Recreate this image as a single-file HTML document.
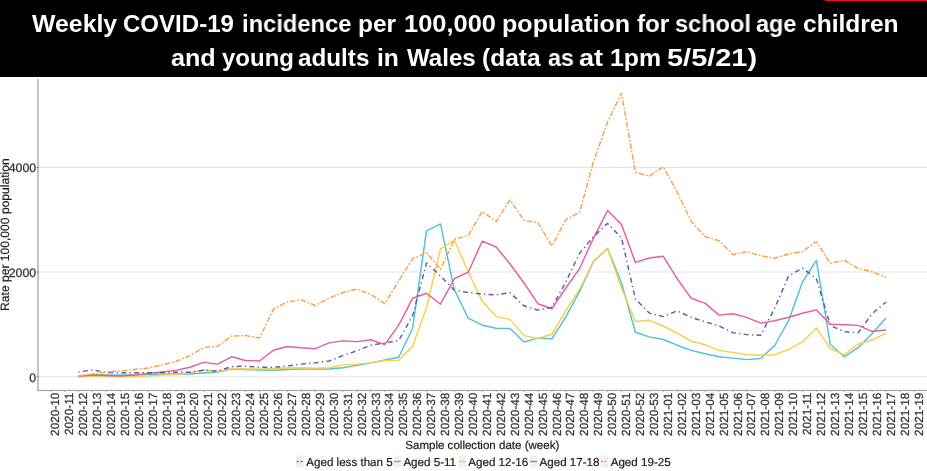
<!DOCTYPE html>
<html><head><meta charset="utf-8"><style>
html,body{margin:0;padding:0;background:#fff;}
body{width:927px;height:471px;overflow:hidden;position:relative;font-family:"Liberation Sans",sans-serif;}

#hdr{position:absolute;left:0;top:0;width:927px;height:76.5px;background:#000;}
#red{position:absolute;left:825px;top:0;width:102px;height:1px;background:#ee1111;}
.hw{position:absolute;color:#fff;font-weight:bold;font-size:24px;white-space:nowrap;line-height:1;transform-origin:0 0;will-change:transform;}
.w1{top:12.0px;}
.w2{top:46.0px;}
svg{position:absolute;left:0;top:0;will-change:transform;text-rendering:geometricPrecision;}

.tk{font-family:"Liberation Sans",sans-serif;font-size:11.8px;fill:#333;stroke:#333;stroke-width:0.25px;}
.ttl{font-family:"Liberation Sans",sans-serif;font-size:11.8px;fill:#1a1a1a;stroke:#1a1a1a;stroke-width:0.2px;}
.lg{font-family:"Liberation Sans",sans-serif;font-size:11.6px;fill:#1a1a1a;stroke:#1a1a1a;stroke-width:0.2px;}
.ln{fill:none;stroke-width:1.45;stroke-linejoin:round;}
</style></head><body>
<div id="hdr"></div><div id="red"></div>
<span class="hw w1" style="left:31.60px;transform:scaleX(1.0354)">Weekly</span>
<span class="hw w1" style="left:123.40px;transform:scaleX(1.0018)">COVID-19</span>
<span class="hw w1" style="left:241.61px;transform:scaleX(0.9890)">incidence</span>
<span class="hw w1" style="left:357.98px;transform:scaleX(1.0194)">per</span>
<span class="hw w1" style="left:404.14px;transform:scaleX(1.0600)">100,000</span>
<span class="hw w1" style="left:501.85px;transform:scaleX(1.0450)">population</span>
<span class="hw w1" style="left:636.50px;transform:scaleX(1.0094)">for</span>
<span class="hw w1" style="left:675.12px;transform:scaleX(0.9813)">school</span>
<span class="hw w1" style="left:756.22px;transform:scaleX(0.9775)">age</span>
<span class="hw w1" style="left:803.38px;transform:scaleX(1.0242)">children</span>
<span class="hw w2" style="left:170.85px;transform:scaleX(1.0475)">and</span>
<span class="hw w2" style="left:222.00px;transform:scaleX(0.9986)">young</span>
<span class="hw w2" style="left:298.49px;transform:scaleX(1.0101)">adults</span>
<span class="hw w2" style="left:376.97px;transform:scaleX(1.0263)">in</span>
<span class="hw w2" style="left:406.70px;transform:scaleX(1.0044)">Wales</span>
<span class="hw w2" style="left:482.08px;transform:scaleX(1.0211)">(data</span>
<span class="hw w2" style="left:547.63px;transform:scaleX(0.9720)">as</span>
<span class="hw w2" style="left:579.07px;transform:scaleX(1.1300)">at</span>
<span class="hw w2" style="left:609.97px;transform:scaleX(1.0340)">1pm</span>
<span class="hw w2" style="left:666.69px;transform:scaleX(1.2055)">5/5/21)</span>
<svg width="927" height="471" viewBox="0 0 927 471">
<line x1="39" y1="167.5" x2="927" y2="167.5" stroke="#e3e3e3" stroke-width="1.1"/>
<line x1="39" y1="272.0" x2="927" y2="272.0" stroke="#e3e3e3" stroke-width="1.1"/>
<line x1="39" y1="376.8" x2="927" y2="376.8" stroke="#e3e3e3" stroke-width="1.1"/>
<rect x="37" y="79" width="2" height="312" fill="#c4c4c4"/>
<rect x="37" y="389.9" width="890" height="1.15" fill="#a4a4a4"/>
<line x1="36.5" y1="167.5" x2="39" y2="167.5" stroke="#888" stroke-width="1"/>
<text x="36.1" y="172.3" text-anchor="end" class="tk" style="font-size:12.3px">4000</text>
<line x1="36.5" y1="272.0" x2="39" y2="272.0" stroke="#888" stroke-width="1"/>
<text x="36.1" y="276.8" text-anchor="end" class="tk" style="font-size:12.3px">2000</text>
<line x1="36.5" y1="376.8" x2="39" y2="376.8" stroke="#888" stroke-width="1"/>
<text x="36.1" y="381.6" text-anchor="end" class="tk" style="font-size:12.3px">0</text>
<line x1="50.6" y1="390.5" x2="50.6" y2="392" stroke="#b3b3b3" stroke-width="1"/>
<text transform="translate(59.2,392.6) rotate(-90)" text-anchor="end" class="tk">2020-10</text>
<line x1="64.5" y1="390.5" x2="64.5" y2="392" stroke="#b3b3b3" stroke-width="1"/>
<text transform="translate(73.1,392.6) rotate(-90)" text-anchor="end" class="tk">2020-11</text>
<line x1="78.4" y1="390.5" x2="78.4" y2="392" stroke="#b3b3b3" stroke-width="1"/>
<text transform="translate(87.0,392.6) rotate(-90)" text-anchor="end" class="tk">2020-12</text>
<line x1="92.4" y1="390.5" x2="92.4" y2="392" stroke="#b3b3b3" stroke-width="1"/>
<text transform="translate(101.0,392.6) rotate(-90)" text-anchor="end" class="tk">2020-13</text>
<line x1="106.3" y1="390.5" x2="106.3" y2="392" stroke="#b3b3b3" stroke-width="1"/>
<text transform="translate(114.9,392.6) rotate(-90)" text-anchor="end" class="tk">2020-14</text>
<line x1="120.2" y1="390.5" x2="120.2" y2="392" stroke="#b3b3b3" stroke-width="1"/>
<text transform="translate(128.8,392.6) rotate(-90)" text-anchor="end" class="tk">2020-15</text>
<line x1="134.1" y1="390.5" x2="134.1" y2="392" stroke="#b3b3b3" stroke-width="1"/>
<text transform="translate(142.7,392.6) rotate(-90)" text-anchor="end" class="tk">2020-16</text>
<line x1="148.1" y1="390.5" x2="148.1" y2="392" stroke="#b3b3b3" stroke-width="1"/>
<text transform="translate(156.7,392.6) rotate(-90)" text-anchor="end" class="tk">2020-17</text>
<line x1="162.0" y1="390.5" x2="162.0" y2="392" stroke="#b3b3b3" stroke-width="1"/>
<text transform="translate(170.6,392.6) rotate(-90)" text-anchor="end" class="tk">2020-18</text>
<line x1="175.9" y1="390.5" x2="175.9" y2="392" stroke="#b3b3b3" stroke-width="1"/>
<text transform="translate(184.5,392.6) rotate(-90)" text-anchor="end" class="tk">2020-19</text>
<line x1="189.8" y1="390.5" x2="189.8" y2="392" stroke="#b3b3b3" stroke-width="1"/>
<text transform="translate(198.4,392.6) rotate(-90)" text-anchor="end" class="tk">2020-20</text>
<line x1="203.8" y1="390.5" x2="203.8" y2="392" stroke="#b3b3b3" stroke-width="1"/>
<text transform="translate(212.4,392.6) rotate(-90)" text-anchor="end" class="tk">2020-21</text>
<line x1="217.7" y1="390.5" x2="217.7" y2="392" stroke="#b3b3b3" stroke-width="1"/>
<text transform="translate(226.3,392.6) rotate(-90)" text-anchor="end" class="tk">2020-22</text>
<line x1="231.6" y1="390.5" x2="231.6" y2="392" stroke="#b3b3b3" stroke-width="1"/>
<text transform="translate(240.2,392.6) rotate(-90)" text-anchor="end" class="tk">2020-23</text>
<line x1="245.5" y1="390.5" x2="245.5" y2="392" stroke="#b3b3b3" stroke-width="1"/>
<text transform="translate(254.1,392.6) rotate(-90)" text-anchor="end" class="tk">2020-24</text>
<line x1="259.5" y1="390.5" x2="259.5" y2="392" stroke="#b3b3b3" stroke-width="1"/>
<text transform="translate(268.1,392.6) rotate(-90)" text-anchor="end" class="tk">2020-25</text>
<line x1="273.4" y1="390.5" x2="273.4" y2="392" stroke="#b3b3b3" stroke-width="1"/>
<text transform="translate(282.0,392.6) rotate(-90)" text-anchor="end" class="tk">2020-26</text>
<line x1="287.3" y1="390.5" x2="287.3" y2="392" stroke="#b3b3b3" stroke-width="1"/>
<text transform="translate(295.9,392.6) rotate(-90)" text-anchor="end" class="tk">2020-27</text>
<line x1="301.2" y1="390.5" x2="301.2" y2="392" stroke="#b3b3b3" stroke-width="1"/>
<text transform="translate(309.8,392.6) rotate(-90)" text-anchor="end" class="tk">2020-28</text>
<line x1="315.2" y1="390.5" x2="315.2" y2="392" stroke="#b3b3b3" stroke-width="1"/>
<text transform="translate(323.8,392.6) rotate(-90)" text-anchor="end" class="tk">2020-29</text>
<line x1="329.1" y1="390.5" x2="329.1" y2="392" stroke="#b3b3b3" stroke-width="1"/>
<text transform="translate(337.7,392.6) rotate(-90)" text-anchor="end" class="tk">2020-30</text>
<line x1="343.0" y1="390.5" x2="343.0" y2="392" stroke="#b3b3b3" stroke-width="1"/>
<text transform="translate(351.6,392.6) rotate(-90)" text-anchor="end" class="tk">2020-31</text>
<line x1="356.9" y1="390.5" x2="356.9" y2="392" stroke="#b3b3b3" stroke-width="1"/>
<text transform="translate(365.5,392.6) rotate(-90)" text-anchor="end" class="tk">2020-32</text>
<line x1="370.9" y1="390.5" x2="370.9" y2="392" stroke="#b3b3b3" stroke-width="1"/>
<text transform="translate(379.5,392.6) rotate(-90)" text-anchor="end" class="tk">2020-33</text>
<line x1="384.8" y1="390.5" x2="384.8" y2="392" stroke="#b3b3b3" stroke-width="1"/>
<text transform="translate(393.4,392.6) rotate(-90)" text-anchor="end" class="tk">2020-34</text>
<line x1="398.7" y1="390.5" x2="398.7" y2="392" stroke="#b3b3b3" stroke-width="1"/>
<text transform="translate(407.3,392.6) rotate(-90)" text-anchor="end" class="tk">2020-35</text>
<line x1="412.6" y1="390.5" x2="412.6" y2="392" stroke="#b3b3b3" stroke-width="1"/>
<text transform="translate(421.2,392.6) rotate(-90)" text-anchor="end" class="tk">2020-36</text>
<line x1="426.5" y1="390.5" x2="426.5" y2="392" stroke="#b3b3b3" stroke-width="1"/>
<text transform="translate(435.1,392.6) rotate(-90)" text-anchor="end" class="tk">2020-37</text>
<line x1="440.5" y1="390.5" x2="440.5" y2="392" stroke="#b3b3b3" stroke-width="1"/>
<text transform="translate(449.1,392.6) rotate(-90)" text-anchor="end" class="tk">2020-38</text>
<line x1="454.4" y1="390.5" x2="454.4" y2="392" stroke="#b3b3b3" stroke-width="1"/>
<text transform="translate(463.0,392.6) rotate(-90)" text-anchor="end" class="tk">2020-39</text>
<line x1="468.3" y1="390.5" x2="468.3" y2="392" stroke="#b3b3b3" stroke-width="1"/>
<text transform="translate(476.9,392.6) rotate(-90)" text-anchor="end" class="tk">2020-40</text>
<line x1="482.2" y1="390.5" x2="482.2" y2="392" stroke="#b3b3b3" stroke-width="1"/>
<text transform="translate(490.8,392.6) rotate(-90)" text-anchor="end" class="tk">2020-41</text>
<line x1="496.2" y1="390.5" x2="496.2" y2="392" stroke="#b3b3b3" stroke-width="1"/>
<text transform="translate(504.8,392.6) rotate(-90)" text-anchor="end" class="tk">2020-42</text>
<line x1="510.1" y1="390.5" x2="510.1" y2="392" stroke="#b3b3b3" stroke-width="1"/>
<text transform="translate(518.7,392.6) rotate(-90)" text-anchor="end" class="tk">2020-43</text>
<line x1="524.0" y1="390.5" x2="524.0" y2="392" stroke="#b3b3b3" stroke-width="1"/>
<text transform="translate(532.6,392.6) rotate(-90)" text-anchor="end" class="tk">2020-44</text>
<line x1="537.9" y1="390.5" x2="537.9" y2="392" stroke="#b3b3b3" stroke-width="1"/>
<text transform="translate(546.5,392.6) rotate(-90)" text-anchor="end" class="tk">2020-45</text>
<line x1="551.9" y1="390.5" x2="551.9" y2="392" stroke="#b3b3b3" stroke-width="1"/>
<text transform="translate(560.5,392.6) rotate(-90)" text-anchor="end" class="tk">2020-46</text>
<line x1="565.8" y1="390.5" x2="565.8" y2="392" stroke="#b3b3b3" stroke-width="1"/>
<text transform="translate(574.4,392.6) rotate(-90)" text-anchor="end" class="tk">2020-47</text>
<line x1="579.7" y1="390.5" x2="579.7" y2="392" stroke="#b3b3b3" stroke-width="1"/>
<text transform="translate(588.3,392.6) rotate(-90)" text-anchor="end" class="tk">2020-48</text>
<line x1="593.6" y1="390.5" x2="593.6" y2="392" stroke="#b3b3b3" stroke-width="1"/>
<text transform="translate(602.2,392.6) rotate(-90)" text-anchor="end" class="tk">2020-49</text>
<line x1="607.6" y1="390.5" x2="607.6" y2="392" stroke="#b3b3b3" stroke-width="1"/>
<text transform="translate(616.2,392.6) rotate(-90)" text-anchor="end" class="tk">2020-50</text>
<line x1="621.5" y1="390.5" x2="621.5" y2="392" stroke="#b3b3b3" stroke-width="1"/>
<text transform="translate(630.1,392.6) rotate(-90)" text-anchor="end" class="tk">2020-51</text>
<line x1="635.4" y1="390.5" x2="635.4" y2="392" stroke="#b3b3b3" stroke-width="1"/>
<text transform="translate(644.0,392.6) rotate(-90)" text-anchor="end" class="tk">2020-52</text>
<line x1="649.3" y1="390.5" x2="649.3" y2="392" stroke="#b3b3b3" stroke-width="1"/>
<text transform="translate(657.9,392.6) rotate(-90)" text-anchor="end" class="tk">2020-53</text>
<line x1="663.3" y1="390.5" x2="663.3" y2="392" stroke="#b3b3b3" stroke-width="1"/>
<text transform="translate(671.9,392.6) rotate(-90)" text-anchor="end" class="tk">2021-01</text>
<line x1="677.2" y1="390.5" x2="677.2" y2="392" stroke="#b3b3b3" stroke-width="1"/>
<text transform="translate(685.8,392.6) rotate(-90)" text-anchor="end" class="tk">2021-02</text>
<line x1="691.1" y1="390.5" x2="691.1" y2="392" stroke="#b3b3b3" stroke-width="1"/>
<text transform="translate(699.7,392.6) rotate(-90)" text-anchor="end" class="tk">2021-03</text>
<line x1="705.0" y1="390.5" x2="705.0" y2="392" stroke="#b3b3b3" stroke-width="1"/>
<text transform="translate(713.6,392.6) rotate(-90)" text-anchor="end" class="tk">2021-04</text>
<line x1="719.0" y1="390.5" x2="719.0" y2="392" stroke="#b3b3b3" stroke-width="1"/>
<text transform="translate(727.6,392.6) rotate(-90)" text-anchor="end" class="tk">2021-05</text>
<line x1="732.9" y1="390.5" x2="732.9" y2="392" stroke="#b3b3b3" stroke-width="1"/>
<text transform="translate(741.5,392.6) rotate(-90)" text-anchor="end" class="tk">2021-06</text>
<line x1="746.8" y1="390.5" x2="746.8" y2="392" stroke="#b3b3b3" stroke-width="1"/>
<text transform="translate(755.4,392.6) rotate(-90)" text-anchor="end" class="tk">2021-07</text>
<line x1="760.7" y1="390.5" x2="760.7" y2="392" stroke="#b3b3b3" stroke-width="1"/>
<text transform="translate(769.3,392.6) rotate(-90)" text-anchor="end" class="tk">2021-08</text>
<line x1="774.6" y1="390.5" x2="774.6" y2="392" stroke="#b3b3b3" stroke-width="1"/>
<text transform="translate(783.2,392.6) rotate(-90)" text-anchor="end" class="tk">2021-09</text>
<line x1="788.6" y1="390.5" x2="788.6" y2="392" stroke="#b3b3b3" stroke-width="1"/>
<text transform="translate(797.2,392.6) rotate(-90)" text-anchor="end" class="tk">2021-10</text>
<line x1="802.5" y1="390.5" x2="802.5" y2="392" stroke="#b3b3b3" stroke-width="1"/>
<text transform="translate(811.1,392.6) rotate(-90)" text-anchor="end" class="tk">2021-11</text>
<line x1="816.4" y1="390.5" x2="816.4" y2="392" stroke="#b3b3b3" stroke-width="1"/>
<text transform="translate(825.0,392.6) rotate(-90)" text-anchor="end" class="tk">2021-12</text>
<line x1="830.3" y1="390.5" x2="830.3" y2="392" stroke="#b3b3b3" stroke-width="1"/>
<text transform="translate(838.9,392.6) rotate(-90)" text-anchor="end" class="tk">2021-13</text>
<line x1="844.3" y1="390.5" x2="844.3" y2="392" stroke="#b3b3b3" stroke-width="1"/>
<text transform="translate(852.9,392.6) rotate(-90)" text-anchor="end" class="tk">2021-14</text>
<line x1="858.2" y1="390.5" x2="858.2" y2="392" stroke="#b3b3b3" stroke-width="1"/>
<text transform="translate(866.8,392.6) rotate(-90)" text-anchor="end" class="tk">2021-15</text>
<line x1="872.1" y1="390.5" x2="872.1" y2="392" stroke="#b3b3b3" stroke-width="1"/>
<text transform="translate(880.7,392.6) rotate(-90)" text-anchor="end" class="tk">2021-16</text>
<line x1="886.0" y1="390.5" x2="886.0" y2="392" stroke="#b3b3b3" stroke-width="1"/>
<text transform="translate(894.6,392.6) rotate(-90)" text-anchor="end" class="tk">2021-17</text>
<line x1="900.0" y1="390.5" x2="900.0" y2="392" stroke="#b3b3b3" stroke-width="1"/>
<text transform="translate(908.6,392.6) rotate(-90)" text-anchor="end" class="tk">2021-18</text>
<line x1="913.9" y1="390.5" x2="913.9" y2="392" stroke="#b3b3b3" stroke-width="1"/>
<text transform="translate(922.5,392.6) rotate(-90)" text-anchor="end" class="tk">2021-19</text>
<path d="M78.4,376.5 L92.4,375.0 L106.3,375.0 L120.2,375.0 L134.1,375.0 L148.1,374.5 L162.0,374.0 L175.9,374.0 L189.8,374.0 L203.8,373.0 L217.7,372.0 L231.6,369.0 L245.5,369.5 L259.5,370.0 L273.4,370.2 L287.3,369.5 L301.2,369.0 L315.2,369.0 L329.1,369.0 L343.0,367.8 L356.9,365.4 L370.9,362.9 L384.8,360.0 L398.7,357.2 L412.6,328.2 L426.5,230.9 L440.5,223.9 L454.4,290.0 L468.3,318.2 L482.2,325.2 L496.2,328.2 L510.1,328.6 L524.0,342.0 L537.9,338.1 L551.9,338.8 L565.8,316.9 L579.7,291.4 L593.6,261.3 L607.6,248.4 L621.5,283.0 L635.4,332.2 L649.3,336.9 L663.3,339.5 L677.2,345.2 L691.1,350.4 L705.0,353.8 L719.0,356.7 L732.9,358.1 L746.8,359.6 L760.7,358.5 L774.6,345.5 L788.6,320.7 L802.5,282.0 L816.4,260.4 L830.3,344.5 L844.3,356.8 L858.2,347.7 L872.1,333.4 L886.0,317.9" stroke="#4fc1d9" class="ln"/>
<path d="M78.4,377.0 L92.4,376.0 L106.3,376.5 L120.2,376.5 L134.1,376.5 L148.1,376.0 L162.0,375.0 L175.9,374.5 L189.8,372.7 L203.8,369.8 L217.7,371.5 L231.6,368.5 L245.5,369.0 L259.5,369.0 L273.4,368.5 L287.3,368.0 L301.2,367.8 L315.2,368.3 L329.1,367.8 L343.0,364.9 L356.9,364.1 L370.9,362.9 L384.8,360.5 L398.7,360.2 L412.6,346.2 L426.5,307.7 L440.5,248.9 L454.4,240.2 L468.3,272.0 L482.2,301.1 L496.2,316.6 L510.1,319.4 L524.0,335.6 L537.9,338.5 L551.9,334.3 L565.8,310.5 L579.7,289.2 L593.6,261.3 L607.6,248.4 L621.5,288.0 L635.4,321.5 L649.3,320.3 L663.3,326.0 L677.2,333.2 L691.1,341.2 L705.0,344.7 L719.0,350.4 L732.9,352.4 L746.8,354.7 L760.7,355.0 L774.6,354.7 L788.6,349.4 L802.5,341.9 L816.4,328.1 L830.3,348.7 L844.3,354.7 L858.2,344.1 L872.1,339.8 L886.0,333.4" stroke="#f7cf48" class="ln"/>
<path d="M78.4,376.3 L92.4,375.0 L106.3,375.5 L120.2,376.0 L134.1,375.0 L148.1,373.4 L162.0,372.0 L175.9,370.4 L189.8,367.3 L203.8,362.4 L217.7,364.1 L231.6,356.8 L245.5,360.5 L259.5,361.0 L273.4,350.2 L287.3,346.5 L301.2,347.8 L315.2,348.7 L329.1,342.9 L343.0,340.9 L356.9,341.6 L370.9,339.7 L384.8,344.6 L398.7,325.2 L412.6,298.3 L426.5,293.2 L440.5,304.2 L454.4,278.5 L468.3,272.2 L482.2,241.2 L496.2,247.0 L510.1,264.0 L524.0,283.0 L537.9,303.7 L551.9,308.8 L565.8,288.0 L579.7,268.3 L593.6,237.9 L607.6,210.6 L621.5,224.6 L635.4,262.4 L649.3,258.0 L663.3,256.3 L677.2,278.7 L691.1,298.2 L705.0,303.1 L719.0,315.1 L732.9,313.7 L746.8,317.4 L760.7,323.1 L774.6,320.7 L788.6,317.3 L802.5,313.3 L816.4,309.9 L830.3,324.3 L844.3,324.7 L858.2,325.4 L872.1,331.3 L886.0,330.0" stroke="#e2609c" class="ln"/>
<path d="M78.4,372.1 L92.4,369.9 L106.3,372.4 L120.2,372.7 L134.1,372.8 L148.1,372.8 L162.0,372.5 L175.9,372.3 L189.8,372.2 L203.8,370.2 L217.7,371.0 L231.6,366.6 L245.5,366.1 L259.5,367.3 L273.4,367.3 L287.3,366.0 L301.2,364.1 L315.2,362.9 L329.1,361.0 L343.0,355.6 L356.9,350.7 L370.9,345.3 L384.8,342.9 L398.7,340.6 L412.6,315.9 L426.5,262.9 L440.5,276.0 L454.4,290.2 L468.3,292.5 L482.2,294.1 L496.2,294.8 L510.1,292.8 L524.0,305.8 L537.9,310.1 L551.9,307.3 L565.8,282.0 L579.7,253.1 L593.6,236.7 L607.6,223.4 L621.5,237.9 L635.4,299.0 L649.3,313.1 L663.3,316.6 L677.2,310.8 L691.1,317.4 L705.0,321.7 L719.0,326.0 L732.9,332.6 L746.8,334.6 L760.7,335.3 L774.6,308.4 L788.6,276.0 L802.5,268.1 L816.4,278.6 L830.3,325.4 L844.3,331.7 L858.2,332.8 L872.1,313.7 L886.0,302.0" stroke="#5f5ba5" class="ln" stroke-dasharray="1.3,3.3,5,3.3"/>
<path d="M78.4,376.0 L92.4,374.0 L106.3,372.0 L120.2,371.0 L134.1,369.5 L148.1,368.0 L162.0,365.0 L175.9,361.5 L189.8,355.6 L203.8,347.7 L217.7,346.3 L231.6,336.0 L245.5,335.5 L259.5,338.0 L273.4,309.1 L287.3,301.8 L301.2,299.8 L315.2,305.5 L329.1,298.1 L343.0,292.5 L356.9,289.1 L370.9,294.4 L384.8,303.7 L398.7,281.0 L412.6,258.9 L426.5,252.8 L440.5,269.2 L454.4,239.5 L468.3,235.3 L482.2,211.5 L496.2,221.6 L510.1,200.0 L524.0,220.4 L537.9,222.7 L551.9,246.1 L565.8,219.9 L579.7,212.2 L593.6,161.4 L607.6,122.0 L621.5,93.2 L635.4,172.2 L649.3,176.2 L663.3,166.8 L677.2,192.1 L691.1,221.3 L705.0,236.5 L719.0,240.7 L732.9,254.7 L746.8,251.7 L760.7,255.7 L774.6,258.2 L788.6,254.0 L802.5,251.4 L816.4,241.7 L830.3,263.3 L844.3,260.4 L858.2,268.4 L872.1,271.8 L886.0,277.4" stroke="#f8a24a" class="ln" stroke-dasharray="5.5,1.8,1.8,1.8"/>
<text x="482.3" y="449" text-anchor="middle" class="ttl" style="font-size:11.55px">Sample collection date (week)</text>
<text transform="translate(9.1,234.6) rotate(-90)" text-anchor="middle" class="ttl" style="font-size:12.1px">Rate per 100,000 population</text>
<rect x="296.4" y="455.5" width="7.5" height="12" fill="#f0f0f0"/>
<line x1="296.7" y1="461.5" x2="303.59999999999997" y2="461.5" stroke="#5f5ba5" stroke-width="1.4" stroke-dasharray="1.8,2.2"/>
<text x="306.3" y="466.4" class="lg">Aged less than 5</text>
<rect x="393.5" y="455.5" width="7.5" height="12" fill="#f0f0f0"/>
<line x1="393.8" y1="461.5" x2="400.7" y2="461.5" stroke="#4fc1d9" stroke-width="1.4"/>
<text x="403.40000000000003" y="466.4" class="lg">Aged 5-11</text>
<rect x="458.6" y="455.5" width="7.5" height="12" fill="#f0f0f0"/>
<line x1="458.90000000000003" y1="461.5" x2="465.8" y2="461.5" stroke="#f7cf48" stroke-width="1.4"/>
<text x="468.3" y="466.4" class="lg">Aged 12-16</text>
<rect x="529.7" y="455.5" width="7.5" height="12" fill="#f0f0f0"/>
<line x1="530.0" y1="461.5" x2="536.9000000000001" y2="461.5" stroke="#e2609c" stroke-width="1.4"/>
<text x="539.5" y="466.4" class="lg">Aged 17-18</text>
<rect x="600.6" y="455.5" width="7.5" height="12" fill="#f0f0f0"/>
<line x1="600.9" y1="461.5" x2="607.8000000000001" y2="461.5" stroke="#f8a24a" stroke-width="1.4" stroke-dasharray="2,1.6"/>
<text x="610.6999999999999" y="466.4" class="lg">Aged 19-25</text>
</svg>
</body></html>
